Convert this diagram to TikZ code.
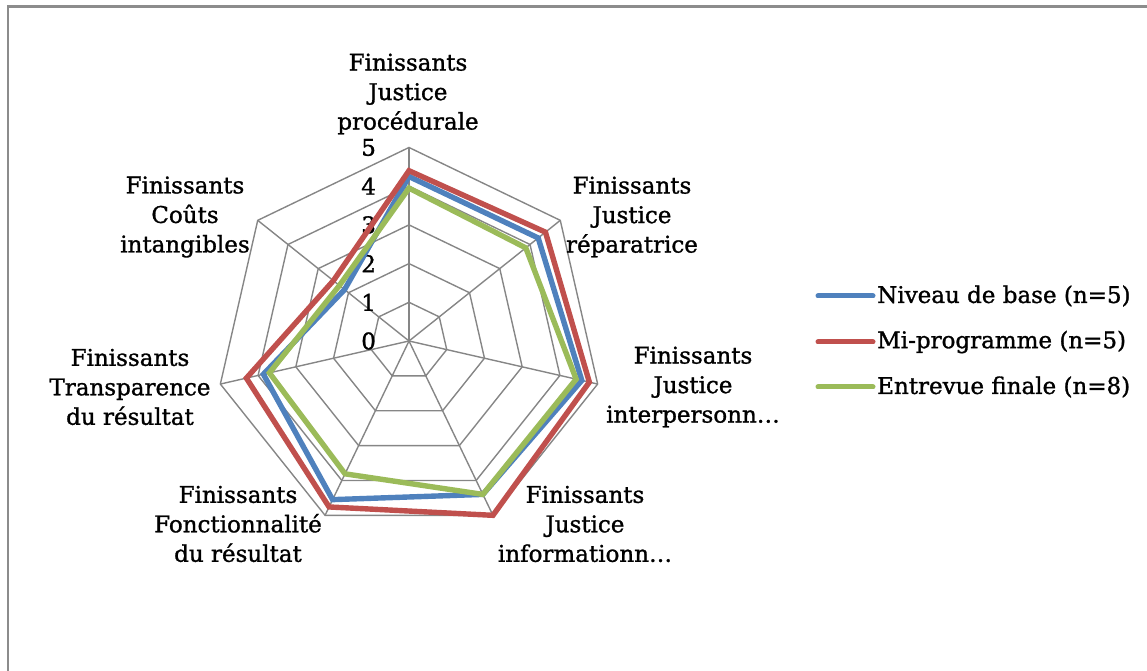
\documentclass[tikz,border=0pt]{standalone}
\usepackage{fontspec}
\setmainfont{DejaVu Serif}
\newfontfamily\chartfont[FakeBold=1.2]{DejaVu Serif}
\definecolor{gridgray}{HTML}{868686}
\definecolor{framegray}{HTML}{8C8C8C}
\definecolor{seriesblue}{HTML}{4F81BD}
\definecolor{seriesred}{HTML}{C0504D}
\definecolor{seriesgreen}{HTML}{9BBB59}
\tikzset{
  gridline/.style={draw=gridgray, line width=1.4pt},
  series/.style={line width=5.4pt, line join=miter},
  axislabel/.style={align=center, inner sep=0pt, font=\chartfont\fontsize{23}{29.5}\selectfont},
  ticklabel/.style={anchor=east, inner sep=0pt, font=\chartfont\fontsize{23}{28}\selectfont},
  legendtext/.style={anchor=west, inner sep=0pt, font=\chartfont\fontsize{23}{28}\selectfont},
}
\begin{document}
\begin{tikzpicture}[x=1pt, y=1pt]
\useasboundingbox (0,0) rectangle (1147,671);
% outer frame (top and left edges)
\draw[framegray, line width=2.2pt] (8,0) -- (8,664.5) -- (1147,664.5);

\begin{scope}[shift={(409pt,330pt)}, x=38.7pt, y=38.7pt]
  % heptagonal grid rings
  \foreach \r in {1,...,5}
    \draw[gridline] (90:\r) \foreach \k in {1,...,6} { -- ({90-\k*360/7}:\r) } -- cycle;
  % spokes
  \foreach \k in {0,...,6}
    \draw[gridline] (0,0) -- ({90-\k*360/7}:5);
  % scale values
  \foreach \v in {0,...,5}
    \node[ticklabel] (tick\v) at (-0.85,\v) {\v};

  % data series
  \draw[series, seriesblue]
    (90:4.25) -- (38.571:4.27) -- (-12.857:4.58) -- (-64.286:4.4)
    -- (-115.714:4.55) -- (-167.143:3.86) -- (141.429:2.13) -- cycle;
  \draw[series, seriesred]
    (90:4.4) -- (38.571:4.51) -- (-12.857:4.78) -- (-64.286:5.0)
    -- (-115.714:4.76) -- (-167.143:4.31) -- (141.429:2.5) -- cycle;
  \draw[series, seriesgreen]
    (90:3.95) -- (38.571:3.86) -- (-12.857:4.43) -- (-64.286:4.4)
    -- (-115.714:3.81) -- (-167.143:3.7) -- (141.429:2.3) -- cycle;
\end{scope}

% category labels
\node[axislabel] (procedurale) at (408,577) {Finissants\\Justice\\procédurale};
\node[axislabel] (reparatrice) at (632,454) {Finissants\\Justice\\réparatrice};
\node[axislabel] (interpers) at (693,284) {Finissants\\Justice\\interpersonn…};
\node[axislabel] (informat) at (585,147) {Finissants\\Justice\\informationn…};
\node[axislabel] (fonction) at (238,147) {Finissants\\Fonctionnalité\\du résultat};
\node[axislabel] (transpar) at (130,284) {Finissants\\Transparence\\du résultat};
\node[axislabel] (couts) at (185,454) {Finissants\\Coûts\\intangibles};

% legend
\coordinate (lgA1) at (818,375); \coordinate (lgB1) at (873,375);
\coordinate (lgA2) at (818,329); \coordinate (lgB2) at (873,329);
\coordinate (lgA3) at (818,284); \coordinate (lgB3) at (873,284);
\draw[seriesblue, line width=5pt, line cap=round] (lgA1) -- (lgB1);
\draw[seriesred, line width=5pt, line cap=round] (lgA2) -- (lgB2);
\draw[seriesgreen, line width=5pt, line cap=round] (lgA3) -- (lgB3);
\node[legendtext] (leg1) at (877,375) {Niveau de base (n=5)};
\node[legendtext] (leg2) at (877,329) {Mi-programme (n=5)};
\node[legendtext] (leg3) at (877,284) {Entrevue finale (n=8)};
\end{tikzpicture}
\end{document}
